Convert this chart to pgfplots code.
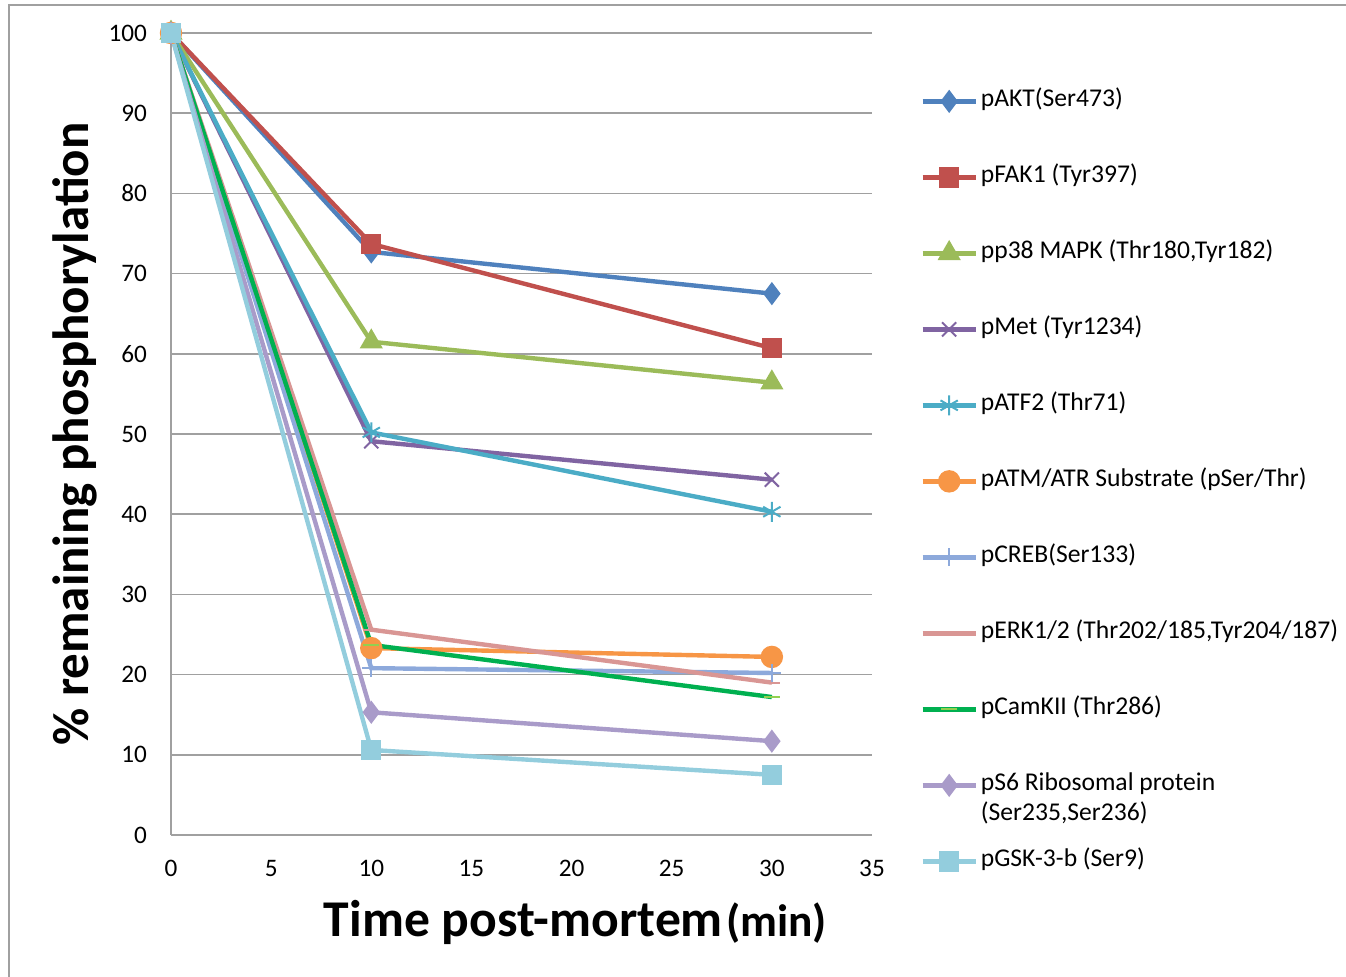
\documentclass[border=0pt]{standalone}
\usepackage{fontspec}
\setmainfont{Carlito}
\usepackage{pgfplots}
\pgfplotsset{compat=1.18}
\definecolor{cAKT}{HTML}{4F81BD}
\definecolor{cFAK}{HTML}{C0504D}
\definecolor{cP38}{HTML}{9BBB59}
\definecolor{cMET}{HTML}{8064A2}
\definecolor{cATF}{HTML}{4BACC6}
\definecolor{cATM}{HTML}{F79646}
\definecolor{cCREB}{HTML}{8DA9DB}
\definecolor{cERK}{HTML}{D99694}
\definecolor{cCAM}{HTML}{00B050}
\definecolor{cCAMm}{HTML}{92D050}
\definecolor{cS6}{HTML}{A99BC9}
\definecolor{cGSK}{HTML}{93CDDD}
\definecolor{gridc}{HTML}{A0A0A0}
\begin{document}
\begin{tikzpicture}
\useasboundingbox (0,0) rectangle (673pt,488.5pt);
\draw[color=gridc, line width=1pt] (4.5pt,0) -- (4.5pt,486pt) -- (673pt,486pt);
\begin{axis}[
  at={(85.5pt,71pt)}, anchor=south west,
  scale only axis, width=350.5pt, height=401pt,
  xmin=0, xmax=35, ymin=0, ymax=100,
  xtick={0,5,...,35}, ytick={0,10,...,100},
  axis x line*=bottom, axis y line*=left,
  axis line style={color=gridc, line width=0.8pt, -},
  major tick length=0pt,
  ymajorgrids, grid style={color=gridc, line width=0.8pt},
  tick label style={font=\fontsize{12.6}{15}\selectfont, color=black},
  /pgf/number format/assume math mode=true,
  yticklabel style={xshift=-8.5pt},
  xticklabel style={yshift=-9pt},
  ylabel={\fontsize{25.5}{30}\selectfont\bfseries \% remaining phosphorylation},
  ylabel style={at={(axis description cs:0,0.5)}, anchor=center, yshift=48pt},
  xlabel={{\fontsize{25.8}{30}\selectfont\bfseries Time post-mortem}\,{\fontsize{22.7}{26}\selectfont\bfseries (min)}},
  xlabel style={at={(axis description cs:0.577,0)}, anchor=base, yshift=-51pt},
  legend image code/.code={\draw[mark repeat=2,mark phase=2] plot coordinates {(0pt,0pt) (13.25pt,0pt) (26.5pt,0pt)};},
  legend cell align=left,
  legend style={at={(axis description cs:1.0686,0.9327)}, anchor=north west, draw=none, fill=none, inner sep=0pt,
    font=\fontsize{12.8}{15}\selectfont, row sep=24pt, column sep=0pt,
    nodes={text height=8pt, text depth=3pt, inner sep=1.5pt}},
  every axis plot/.append style={line width=2.2pt},
]
\addplot[color=cAKT, mark=diamond*, mark size=4pt] coordinates {(0,100) (10,72.7) (30,67.5)};
\addlegendentry{pAKT(Ser473)}
\addplot[color=cFAK, mark=square*, mark size=4pt] coordinates {(0,100) (10,73.7) (30,60.7)};
\addlegendentry{pFAK1 (Tyr397)}
\addplot[color=cP38, mark=triangle*, mark size=4.5pt] coordinates {(0,100) (10,61.5) (30,56.4)};
\addlegendentry{pp38 MAPK (Thr180,Tyr182)}
\addplot[color=cMET, mark=x, mark size=5pt, mark options={line width=1pt}] coordinates {(0,100) (10,49.1) (30,44.3)};
\addlegendentry{pMet (Tyr1234)}
\addplot[color=cATF, mark=asterisk, mark size=5pt, mark options={line width=1pt}] coordinates {(0,100) (10,50.2) (30,40.3)};
\addlegendentry{pATF2 (Thr71)}
\addplot[color=cATM, mark=*, mark size=4.5pt] coordinates {(0,100) (10,23.3) (30,22.2)};
\addlegendentry{pATM/ATR Substrate (pSer/Thr)}
\addplot[color=cCREB, mark=+, mark size=4.5pt, mark options={line width=1pt}] coordinates {(0,100) (10,20.8) (30,20.2)};
\addlegendentry{pCREB(Ser133)}
\addplot[color=cERK, mark=-, mark size=4pt, mark options={line width=1pt}] coordinates {(0,100) (10,25.6) (30,19.0)};
\addlegendentry{pERK1/2 (Thr202/185,Tyr204/187)}
\addplot[color=cCAM, mark=-, mark size=4pt, mark options={line width=1pt, color=cCAMm}] coordinates {(0,100) (10,23.7) (30,17.2)};
\addlegendentry{pCamKII (Thr286)}
\addplot[color=cS6, mark=diamond*, mark size=4pt] coordinates {(0,100) (10,15.3) (30,11.7)};
\addlegendentry{\begin{tabular}[t]{@{}l@{}}pS6 Ribosomal protein\\(Ser235,Ser236)\end{tabular}}
\addplot[color=cGSK, mark=square*, mark size=4pt] coordinates {(0,100) (10,10.6) (30,7.5)};
\addlegendentry{pGSK-3-b (Ser9)}
\end{axis}
\end{tikzpicture}
\end{document}
